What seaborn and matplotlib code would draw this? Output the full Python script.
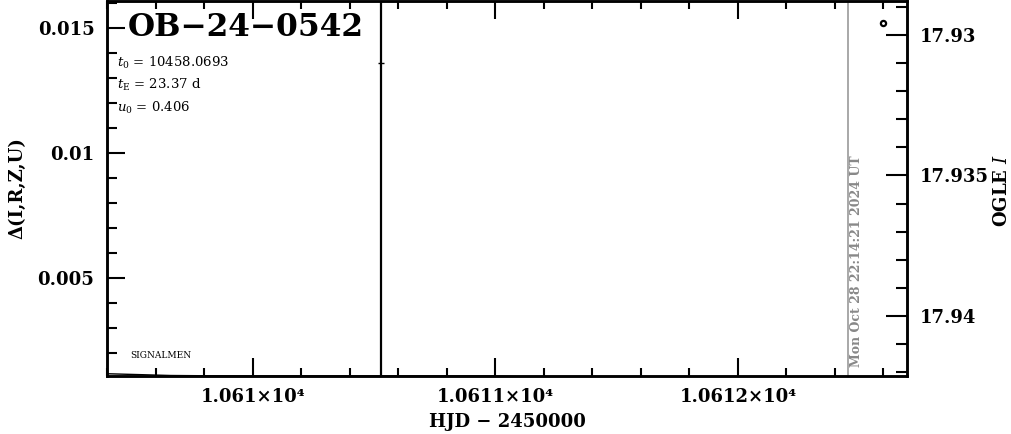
import numpy as np
import pandas as pd
import matplotlib
matplotlib.use("Agg")
import matplotlib.pyplot as plt
import matplotlib.ticker as mticker
import seaborn as sns

# ---- data ----
event_name = "OB−24−0542"
t0 = "10458.0693"
tE = "23.37"
u0 = "0.406"

# differential-photometry (left axis) point with error bar
diff_hjd = [10610.528]
diff_val = [0.0136]
diff_err = [0.03]

# OGLE I photometry (right axis)
ogle_hjd = [10612.598]
ogle_mag = [17.92957]

# model curve (left axis)
model_hjd = [10609.40, 10609.55, 10609.66, 10609.80, 10610.00, 10610.40, 10610.97, 10611.10]
model_val = [0.00117, 0.00113, 0.00110, 0.00109, 0.00108, 0.00108, 0.00108, 0.00105]

now_hjd = 10612.454
now_label = "Mon Oct 28 22:14:21 2024 UT"

xlim = (10609.398, 10612.697)
ylim_left = (0.00108, 0.01608)
ylim_right = (17.94214, 17.92879)

# ---- style ----
sns.set_theme(style="ticks")
plt.rcParams["font.family"] = ["DejaVu Serif", "DejaVu Sans"]
plt.rcParams["mathtext.fontset"] = "dejavuserif"
for k in ("text.color", "axes.labelcolor", "xtick.color", "ytick.color", "axes.edgecolor"):
    plt.rcParams[k] = "black"

fig = plt.figure(figsize=(10.11, 4.34), dpi=100)
ax = fig.add_axes([107 / 1011, 1 - 376 / 434, 800 / 1011, 375 / 434])
ax2 = ax.twinx()

df_model = pd.DataFrame({"hjd": model_hjd, "val": model_val})
sns.lineplot(data=df_model, x="hjd", y="val", ax=ax, color="black", lw=1.0, sort=False)

ax.errorbar(diff_hjd, diff_val, yerr=diff_err, fmt="_", color="black", ms=4, elinewidth=1.6, capsize=0)

df_ogle = pd.DataFrame({"hjd": ogle_hjd, "mag": ogle_mag})
sns.scatterplot(data=df_ogle, x="hjd", y="mag", ax=ax2, marker="o", s=14,
                facecolor="white", edgecolor="black", linewidth=1.6)

ax.axvline(now_hjd, color="#999999", lw=1.2)

ax.set_xlim(*xlim)
ax.set_ylim(*ylim_left)
ax2.set_ylim(*ylim_right)

# ticks
def xfmt(v, pos):
    m = v / 1e4
    s = ("%.5f" % m).rstrip("0").rstrip(".")
    return s + "×10⁴"

ax.xaxis.set_major_locator(mticker.MultipleLocator(1))
ax.xaxis.set_minor_locator(mticker.MultipleLocator(0.2))
ax.xaxis.set_major_formatter(mticker.FuncFormatter(xfmt))
ax.yaxis.set_major_locator(mticker.MultipleLocator(0.005))
ax.yaxis.set_minor_locator(mticker.MultipleLocator(0.001))
ax.yaxis.set_major_formatter(mticker.FuncFormatter(lambda v, p: "%g" % round(v, 6)))
ax2.yaxis.set_major_locator(mticker.MultipleLocator(0.005))
ax2.yaxis.set_minor_locator(mticker.MultipleLocator(0.001))
ax2.yaxis.set_major_formatter(mticker.FuncFormatter(lambda v, p: "%g" % round(v, 4)))

ax.tick_params(axis="x", which="both", direction="in", top=True, bottom=True,
               labelsize=13, pad=9, width=1.5, colors="black")
ax.tick_params(axis="x", which="major", length=13)
ax.tick_params(axis="x", which="minor", length=6)
ax.tick_params(axis="y", which="both", direction="in", left=True, right=False,
               labelsize=13, pad=9, width=1.5)
ax.tick_params(axis="y", which="major", length=13)
ax.tick_params(axis="y", which="minor", length=7)
ax2.tick_params(axis="y", which="both", direction="in", right=True, left=False,
                labelsize=13, pad=9, width=1.5)
ax2.tick_params(axis="y", which="major", length=15)
ax2.tick_params(axis="y", which="minor", length=8)

for a in (ax, ax2):
    for sp in a.spines.values():
        sp.set_visible(True)
        sp.set_linewidth(1.8)
        sp.set_color("black")
    for lab in a.get_xticklabels() + a.get_yticklabels():
        lab.set_fontweight("bold")

ax.set_xlabel("HJD − 2450000", fontsize=13, fontweight="bold", labelpad=5)
ax.set_ylabel("Δ(I,R,Z,U)", fontsize=13, fontweight="bold", labelpad=8)
ax2.set_ylabel("")
fig.text(1002 / 1011, 1 - 190 / 434, r"OGLE $\mathit{I}$", rotation=90, fontsize=13,
         fontweight="bold", ha="center", va="center")

# annotations
ax.text(0.026, 0.972, event_name, transform=ax.transAxes, fontsize=22.5,
        fontweight="bold", va="top", ha="left")
ax.text(0.013, 0.835, r"$t_0$ = " + t0, transform=ax.transAxes, fontsize=9.5, va="center")
ax.text(0.013, 0.775, r"$t_{\rm E}$ = " + tE + " d", transform=ax.transAxes, fontsize=9.5, va="center")
ax.text(0.013, 0.715, r"$u_0$ = " + u0, transform=ax.transAxes, fontsize=9.5, va="center")
ax.text(0.029, 0.055, "SIGNALMEN", transform=ax.transAxes, fontsize=6.5, va="center")
ax.text(now_hjd + 0.035, 0.025, now_label, transform=ax.get_xaxis_transform(),
        rotation=90, fontsize=9, color="#888888", fontweight="bold",
        va="bottom", ha="center")

fig.savefig("out.png", dpi=100)
